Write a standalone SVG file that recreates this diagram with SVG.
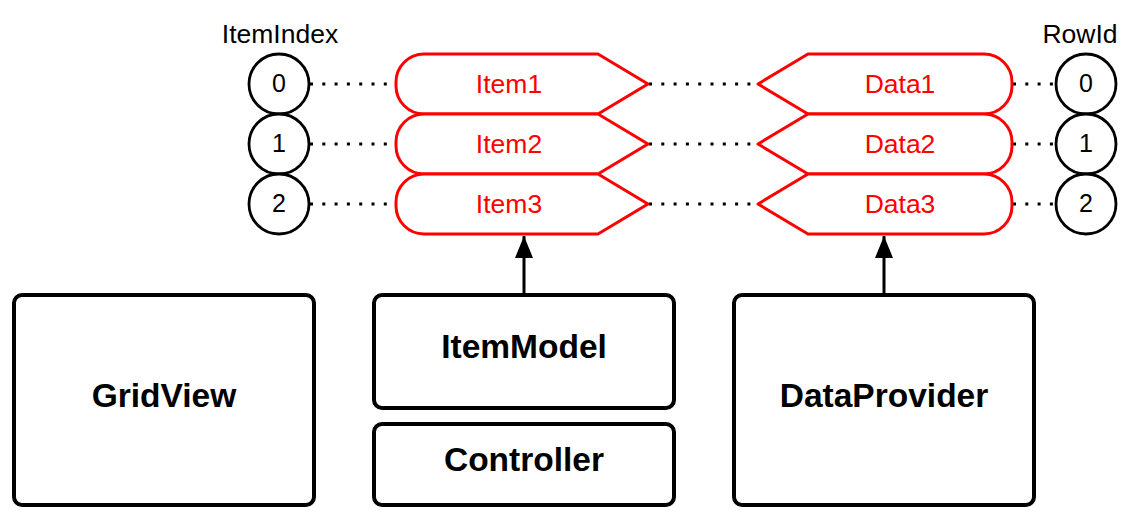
<svg xmlns="http://www.w3.org/2000/svg" width="1144" height="522" viewBox="0 0 1144 522">
<style>
.bg{fill:#fff}
.circ{fill:#fff;stroke:#000;stroke-width:2.8}
.rec{fill:#fff;stroke:#000;stroke-width:4}
.red{fill:#fff;stroke:#ff0000;stroke-width:3;stroke-linejoin:round}
.dot{stroke:#000;stroke-width:3;stroke-dasharray:3 9.3;fill:none}
.arr{stroke:#000;stroke-width:3;fill:none}
text{font-family:"Liberation Sans",Arial,sans-serif;text-anchor:middle}
.lbl{font-size:26.5px;fill:#000}
.num{font-size:25px;fill:#000}
.rt{font-size:26.5px;fill:#ff0000}
.bt{font-size:33.5px;font-weight:bold;fill:#000}
</style>
<defs>
<marker id="tri" viewBox="0 0 22 18" refX="22" refY="9" markerWidth="22" markerHeight="18" markerUnits="userSpaceOnUse" orient="auto">
<path d="M0 0 L22 9 L0 18 Z" fill="#000"/>
</marker>
</defs>
<rect class="bg" x="0" y="0" width="1144" height="522"/>
<g id="connectors">
<line class="dot" x1="310" y1="84" x2="396" y2="84"/>
<line class="dot" x1="310" y1="144" x2="396" y2="144"/>
<line class="dot" x1="310" y1="204" x2="396" y2="204"/>
<line class="dot" x1="649" y1="84" x2="758" y2="84"/>
<line class="dot" x1="649" y1="144" x2="758" y2="144"/>
<line class="dot" x1="649" y1="204" x2="758" y2="204"/>
<line class="dot" x1="1013" y1="84" x2="1056" y2="84"/>
<line class="dot" x1="1013" y1="144" x2="1056" y2="144"/>
<line class="dot" x1="1013" y1="204" x2="1056" y2="204"/>
<line class="arr" x1="524" y1="294" x2="524" y2="236" marker-end="url(#tri)"/>
<line class="arr" x1="884" y1="294" x2="884" y2="236" marker-end="url(#tri)"/>
</g>
<text class="lbl" x="280" y="43">ItemIndex</text>
<text class="lbl" x="1080" y="43">RowId</text>
<g id="idx0"><circle class="circ" cx="279" cy="84" r="30"/><text class="num" x="279" y="92">0</text></g>
<g id="idx1"><circle class="circ" cx="279" cy="144" r="30"/><text class="num" x="279" y="152">1</text></g>
<g id="idx2"><circle class="circ" cx="279" cy="204" r="30"/><text class="num" x="279" y="212">2</text></g>
<g id="row0"><circle class="circ" cx="1086" cy="84" r="30"/><text class="num" x="1086" y="92">0</text></g>
<g id="row1"><circle class="circ" cx="1086" cy="144" r="30"/><text class="num" x="1086" y="152">1</text></g>
<g id="row2"><circle class="circ" cx="1086" cy="204" r="30"/><text class="num" x="1086" y="212">2</text></g>
<g id="item1"><path class="red" d="M424 54 H598 L648 84 L598 114 H424 A28 28 0 0 1 396 86 V82 A28 28 0 0 1 424 54 Z"/><text class="rt" x="509" y="93">Item1</text></g>
<g id="item2"><path class="red" d="M424 114 H598 L648 144 L598 174 H424 A28 28 0 0 1 396 146 V142 A28 28 0 0 1 424 114 Z"/><text class="rt" x="509" y="153">Item2</text></g>
<g id="item3"><path class="red" d="M424 174 H598 L648 204 L598 234 H424 A28 28 0 0 1 396 206 V202 A28 28 0 0 1 424 174 Z"/><text class="rt" x="509" y="213">Item3</text></g>
<g id="data1"><path class="red" d="M758 84 L808 54 H984 A28 28 0 0 1 1012 82 V86 A28 28 0 0 1 984 114 H808 Z"/><text class="rt" x="900" y="93">Data1</text></g>
<g id="data2"><path class="red" d="M758 144 L808 114 H984 A28 28 0 0 1 1012 142 V146 A28 28 0 0 1 984 174 H808 Z"/><text class="rt" x="900" y="153">Data2</text></g>
<g id="data3"><path class="red" d="M758 204 L808 174 H984 A28 28 0 0 1 1012 202 V206 A28 28 0 0 1 984 234 H808 Z"/><text class="rt" x="900" y="213">Data3</text></g>
<g id="gridview"><rect class="rec" x="14" y="295" width="300" height="210" rx="8"/><text class="bt" x="164" y="407">GridView</text></g>
<g id="itemmodel"><rect class="rec" x="374" y="295" width="300" height="113" rx="8"/><text class="bt" x="524" y="358">ItemModel</text></g>
<g id="controller"><rect class="rec" x="374" y="424" width="300" height="81" rx="8"/><text class="bt" x="524" y="471">Controller</text></g>
<g id="dataprovider"><rect class="rec" x="734" y="295" width="300" height="210" rx="8"/><text class="bt" x="884" y="407">DataProvider</text></g>
</svg>
